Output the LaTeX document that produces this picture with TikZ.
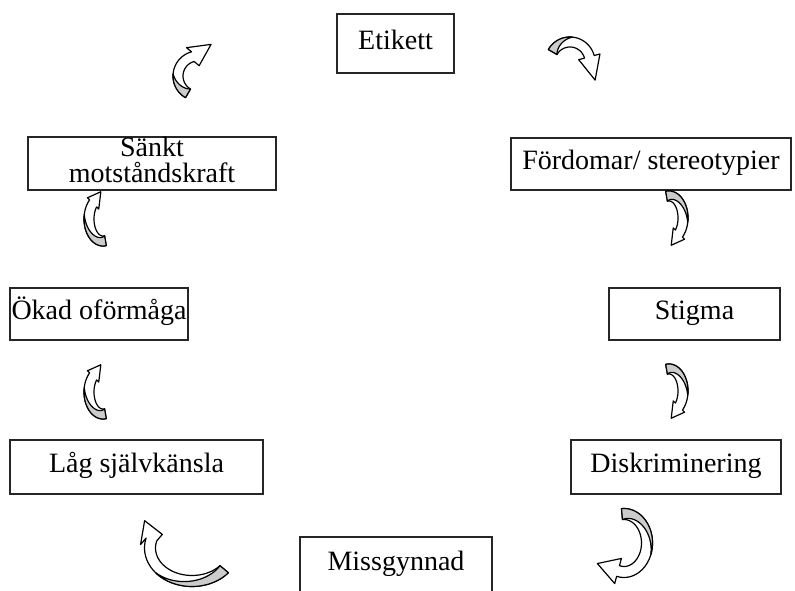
\documentclass[tikz,border=0pt]{standalone}
\usepackage{fontspec}
\setmainfont{Liberation Serif}
\usetikzlibrary{calc}

\tikzset{
  box/.style={draw=black!85, line width=0.9pt, fill=white, align=center,
    inner sep=0pt, text height=13.65pt, text depth=5.25pt,
    font=\fontsize{21}{19.5}\selectfont},
  wh/.style 2 args={minimum width=#1*0.75pt, minimum height=#2*0.75pt},
  bentline/.style={draw=black, line width=0.9pt, line join=round},
  bentgray/.style={bentline, fill=black!20},
}

% curved block arrow: centre, rx, ry, tail angle, end of grey part, head angle,
% half band width, head length, head half width
\def\bturn{0}
\def\brot{0}
\newcommand{\bentarrow}[9]{%
  \begin{scope}[shift={(#1)}, rotate=\brot, samples=30]
    \coordinate (hb) at ({#2*cos(#6)},{#3*sin(#6)});
    \coordinate (hd) at ({#2*cos(#6+2)},{#3*sin(#6+2)});
    \coordinate (ho) at ({(#2+#7)*cos(#6)},{(#3+#7)*sin(#6)});
    \coordinate (hi) at ({(#2-#7)*cos(#6)},{(#3-#7)*sin(#6)});
    \coordinate (tip) at ($(hb)!#8*0.75pt!\bturn:(hd)$);
    \coordinate (bo) at ($(hb)!#9*0.75pt!\bturn:(ho)$);
    \coordinate (bi) at ($(hb)!#9*0.75pt!\bturn:(hi)$);
    \filldraw[bentline, fill=white]
      plot[domain=#4:#6] ({(#2+#7)*cos(\x)},{(#3+#7)*sin(\x)})
      -- (bo) -- (tip) -- (bi)
      -- plot[domain=#6:#4] ({(#2-#7)*cos(\x)},{(#3-#7)*sin(\x)}) -- cycle;
    \filldraw[bentgray]
      plot[domain=#4:#5] ({(#2+#7)*cos(\x)},{(#3+#7)*sin(\x)})
      -- plot[domain=#5:#4] ({(#2+#7-2*#7*(#5-\x)/(#5-#4))*cos(\x)},
                             {(#3+#7-2*#7*(#5-\x)/(#5-#4))*sin(\x)}) -- cycle;
  \end{scope}}

\begin{document}
\begin{tikzpicture}[x=0.75pt, y=-0.75pt]
  \useasboundingbox (0,0) rectangle (795,591);

  % the boxes
  \node[box, wh={117}{59}] (etikett) at (395.5,43.5) {Etikett};
  \node[box, wh={280}{52}] (fordomar) at (651,164) {Fördomar/ stereotypier};
  \node[box, wh={171}{52}] (stigma) at (694.5,314) {Stigma};
  \node[box, wh={210}{54}] (diskr) at (676,467) {Diskriminering};
  \node[box, wh={192}{56}] (missg) at (396,565) {Missgynnad};
  \node[box, wh={253}{54}] (lag) at (136.5,467) {Låg självkänsla};
  \node[box, wh={178}{52}] (okad) at (99,314) {Ökad oförmåga};
  \node[box, wh={248}{53}, text height=33.15pt] (sankt) at (152,163.5)
    {Sänkt\\motståndskraft};

  % the curved arrows, clockwise from the top
  {\def\brot{-90}\bentarrow{570,62}{20}{20}{120}{185}{255}{5}{24}{11}}
  \bentarrow{669,218}{14}{22}{260}{370}{405}{5}{14}{8}
  \bentarrow{669,391}{14}{22}{260}{370}{405}{5}{14}{8}
  \bentarrow{624,543}{23}{29}{265}{380}{465}{5.5}{22}{13}
  {\def\bturn{40}\bentarrow{192,548}{42}{33}{40}{140}{195}{5.5}{20}{12}}
  \bentarrow{103,392}{14}{22}{80}{190}{225}{5}{14}{8}
  \bentarrow{103,219}{14}{22}{80}{190}{225}{5}{14}{8}
  {\def\bturn{20}\bentarrow{198,76}{20}{20}{120}{185}{255}{5}{22}{11}}
\end{tikzpicture}
\end{document}
